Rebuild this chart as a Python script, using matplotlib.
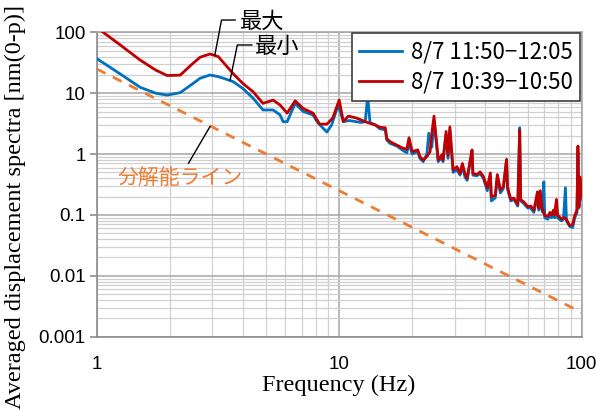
import matplotlib
matplotlib.use('Agg')
import matplotlib.pyplot as plt

# blue: 8/7 11:50-12:05
freq_blue = [1.0, 1.25, 1.51, 1.75, 1.95, 2.21, 2.45, 2.67, 2.93, 3.17, 3.4, 3.65, 4.0,
             4.41, 4.85, 5.34, 5.7, 5.87, 6.1, 6.58, 7.1, 7.8, 8.1, 8.6, 8.9, 9.3, 9.9,
             10.4, 11.0, 12.3, 12.8, 13.1, 13.4, 14.1, 14.7, 15.5, 15.7, 16.2, 17.3, 18.3,
             19.0, 19.4, 20.0, 21.1, 21.5, 22.2, 23.0, 23.4, 24.1, 24.6, 25.3, 25.6, 26.5,
             26.8, 27.6, 28.1, 28.6, 29.2, 29.5, 30.6, 31.5, 32.2, 33.0, 33.7, 34.6, 35.3,
             35.6, 37.0, 38.1, 39.3, 40.8, 42.0, 42.4, 44.0, 44.9, 46.2, 47.5, 49.0, 49.4,
             51.0, 52.5, 54.5, 55.5, 56.0, 57.6, 59.9, 61.6, 63.5, 65.7, 66.5, 67.5, 68.5,
             69.2, 69.8, 70.4, 72.5, 74.0, 75.1, 76.5, 77.3, 78.7, 79.5, 82.5, 84.1, 85.7,
             86.5, 89.2, 91.8, 93.6, 95.6, 96.5, 97.4, 98.4, 99.2, 100.0]
amp_blue = [37, 20.7, 12.5, 10, 9.3, 10.2, 13.7, 17.6, 19.9, 18.7, 17.1, 15.5, 12,
            8.3, 5.3, 5.3, 4.4, 3.4, 3.4, 6.8, 5.0, 4.4, 3.4, 2.63, 2.3, 3.0, 6.4,
            3.4, 3.55, 3.3, 3.4, 8.8, 3.3, 3.0, 2.6, 2.5, 1.7, 1.5, 1.35, 1.15,
            1.05, 1.5, 1.0, 1.1, 0.85, 0.75, 1.0, 2.2, 1.3, 3.5, 1.2, 0.75, 0.9,
            0.75, 2.1, 0.85, 2.5, 0.85, 0.5, 0.55, 0.45, 0.62, 0.42, 0.37, 0.7, 1.1,
            0.45, 0.44, 0.48, 0.4, 0.25, 0.42, 0.17, 0.19, 0.42, 0.23, 0.27, 0.8, 0.27,
            0.17, 0.18, 0.14, 2.7, 0.17, 0.155, 0.13, 0.13, 0.11, 0.2, 0.12, 0.2, 0.12,
            0.11, 0.35, 0.09, 0.085, 0.1, 0.09, 0.1, 0.09, 0.15, 0.09, 0.08, 0.085, 0.28,
            0.08, 0.065, 0.062, 0.09, 0.11, 1.1, 0.13, 0.35, 0.18, 0.25]

# red: 8/7 10:39-10:50
freq_red = [1.0, 1.25, 1.51, 1.75, 1.95, 2.21, 2.45, 2.67, 2.93, 3.17, 3.4, 3.65, 4.0,
            4.41, 4.85, 5.34, 5.7, 6.1, 6.58, 7.1, 7.8, 8.3, 8.9, 9.4, 10.0, 10.4, 10.9,
            11.8, 12.8, 13.4, 14.1, 14.7, 15.5, 15.7, 16.2, 17.3, 18.3, 19.0, 19.4, 20.0,
            21.1, 21.5, 22.2, 23.0, 23.7, 24.1, 24.6, 25.3, 25.6, 26.5, 26.8, 27.6, 28.1,
            28.6, 29.2, 29.5, 30.6, 31.5, 32.2, 33.0, 33.7, 34.6, 35.3, 35.6, 37.0, 38.1,
            39.3, 40.8, 42.0, 42.4, 44.0, 44.9, 46.2, 47.5, 49.0, 49.4, 51.0, 52.5, 54.5,
            55.5, 56.0, 57.6, 59.9, 61.6, 63.5, 65.7, 66.5, 67.5, 68.5, 69.2, 70.4, 72.5,
            74.0, 75.1, 76.5, 77.3, 78.7, 79.5, 82.5, 84.1, 86.5, 89.2, 91.8, 93.6, 95.6,
            96.5, 97.4, 98.4, 99.2, 100.0]
amp_red = [120, 62, 35, 24, 19.5, 19.8, 29, 39, 44, 40, 29, 21, 14.5,
           10.6, 6.8, 7.7, 6.4, 4.7, 7.5, 5.6, 4.7, 3.1, 3.1, 3.9, 7.7, 3.4, 4.2,
           3.9, 3.4, 3.2, 3.0, 2.75, 2.7, 1.8, 1.6, 1.4, 1.25, 1.2, 1.85, 1.1,
           1.17, 0.91, 0.8, 0.91, 1.1, 2.2, 4.2, 1.34, 0.8, 0.97, 0.8, 2.35, 0.95,
           2.8, 0.91, 0.55, 0.62, 0.48, 0.7, 0.48, 0.4, 0.75, 1.17, 0.48, 0.46, 0.51,
           0.43, 0.28, 0.49, 0.2, 0.21, 0.46, 0.26, 0.29, 0.82, 0.29, 0.18, 0.19, 0.148,
           2.47, 0.18, 0.165, 0.137, 0.14, 0.12, 0.24, 0.13, 0.25, 0.13, 0.12, 0.098, 0.095,
           0.11, 0.1, 0.12, 0.1, 0.18, 0.1, 0.085, 0.09, 0.085, 0.067, 0.07, 0.098, 0.12,
           1.35, 0.137, 0.42, 0.2, 0.3]

# resolution line
res_freq = [1, 100]
res_amp = [25, 0.0025]

labels = ['8/7 11:50\u221212:05', '8/7 10:39\u221210:50']
yticks = [0.001, 0.01, 0.1, 1, 10, 100]
yticklabels = ['0.001', '0.01', '0.1', '1', '10', '100']
xticks = [1, 10, 100]
xticklabels = ['1', '10', '100']

JP = ['Noto Sans CJK JP', 'DejaVu Sans']
SERIF = 'Liberation Serif'
TICKFONT = 'Liberation Sans'

fig = plt.figure(figsize=(5.96, 4.11), dpi=100)
ax = fig.add_axes([0.1623, 0.1808, 0.8137, 0.7406])

ax.plot(freq_blue, amp_blue, color='#0070C0', lw=2, label=labels[0], zorder=3)
ax.plot(freq_red, amp_red, color='#C00000', lw=2, label=labels[1], zorder=4)
ax.plot(res_freq, res_amp, color='#ED7D31', lw=2, ls=(0, (3.5, 3)), zorder=2)

ax.set_xscale('log')
ax.set_yscale('log')
ax.set_xlim(1, 100)
ax.set_ylim(0.001, 100)

ax.set_xticks(xticks)
ax.set_xticklabels(xticklabels, family=TICKFONT)
ax.set_yticks(yticks)
ax.set_yticklabels(yticklabels, family=TICKFONT)
ax.tick_params(axis='x', which='major', length=0, pad=14, labelsize=13.5)
ax.tick_params(axis='y', which='major', length=5, width=1.2, color='#8C8C8C',
               pad=3, labelsize=13.5, direction='out')
ax.tick_params(which='minor', length=0)
ax.grid(True, which='major', color='#A6A6A6', lw=1.1)
ax.grid(True, which='minor', color='#D0D0D0', lw=0.9)
ax.set_axisbelow(True)
for name, sp in ax.spines.items():
    sp.set_color('#A6A6A6')
    sp.set_linewidth(1.2)
ax.spines['left'].set_color('#8C8C8C')
ax.spines['bottom'].set_color('#8C8C8C')

fig.text(339 / 596, 1 - 385 / 411, 'Frequency (Hz)', family=SERIF, fontsize=17.5,
         ha='center', va='center')
fig.text(0.026, 1 - 207 / 411, 'Averaged displacement spectra [nm(0-p)]',
         family=SERIF, fontsize=17.5, rotation=90, ha='center', va='center')

leg = ax.legend(loc='upper right', bbox_to_anchor=(0.997, 0.998), borderaxespad=0,
                prop={'family': JP, 'size': 16}, handlelength=1.9,
                handletextpad=0.4, labelspacing=0.3, borderpad=0.35,
                fancybox=False, framealpha=1)
leg.get_frame().set_edgecolor('#404040')
leg.get_frame().set_linewidth(1.2)

# leader lines and annotation texts
ax.plot([3.07, 3.27, 3.72], [42.4, 159, 159], color='black', lw=1, clip_on=False, zorder=5)
ax.text(3.9, 149, '最大', family=JP, fontsize=16, va='center', ha='left')
ax.plot([3.55, 3.80, 4.36], [16.5, 61.9, 61.9], color='black', lw=1, clip_on=False, zorder=5)
ax.text(4.5, 58, '最小', family=JP, fontsize=16, va='center', ha='left')
ax.plot([2.39, 2.93], [0.706, 2.82], color='black', lw=1, zorder=5)
ax.text(1.22, 0.405, '分解能ライン', family=JP, fontsize=15, color='#ED7D31',
        va='center', ha='left')

fig.savefig('out.png', dpi=100)
